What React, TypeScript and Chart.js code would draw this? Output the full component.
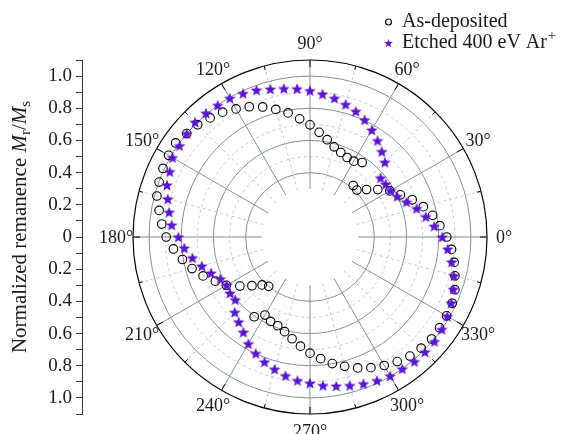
import React, { useEffect, useRef } from "react";
import { Chart, registerables } from "chart.js";

Chart.register(...registerables);

// ---------------- data ----------------
const ANGLES_DEG = [
  0, 5, 10, 15, 20, 25, 30, 35, 40, 45, 50, 55, 60, 65, 70, 75, 80, 85,
  90, 95, 100, 105, 110, 115, 120, 125, 130, 135, 140, 145, 150, 155, 160, 165, 170, 175,
  180, 185, 190, 195, 200, 205, 210, 215, 220, 225, 230, 235, 240, 245, 250, 255, 260, 265,
  270, 275, 280, 285, 290, 295, 300, 305, 310, 315, 320, 325, 330, 335, 340, 345, 350, 355,
];

const AS_DEPOSITED = [
  0.85, 0.81, 0.774, 0.729, 0.676, 0.62, 0.573, 0.514, 0.459, 0.412, 0.418, 0.565, 0.544, 0.545, 0.559, 0.58, 0.614, 0.653,
  0.697, 0.737, 0.783, 0.821, 0.86, 0.893, 0.919, 0.947, 0.966, 0.987, 1.0, 1.019, 1.015, 1.008, 0.998, 0.985, 0.952, 0.925,
  0.894, 0.852, 0.805, 0.759, 0.707, 0.649, 0.6, 0.532, 0.471, 0.421, 0.4, 0.605, 0.56, 0.579, 0.587, 0.609, 0.642, 0.681,
  0.722, 0.759, 0.799, 0.832, 0.866, 0.896, 0.922, 0.945, 0.966, 0.977, 0.986, 0.983, 0.98, 0.975, 0.958, 0.932, 0.91, 0.883,
];

const ETCHED_400EV = [
  0.822, 0.775, 0.731, 0.686, 0.638, 0.598, 0.578, 0.574, 0.572, 0.658, 0.694, 0.732, 0.768, 0.804, 0.832, 0.854, 0.876, 0.892,
  0.91, 0.925, 0.937, 0.952, 0.972, 0.985, 0.997, 1.0, 1.005, 1.01, 1.0, 0.99, 0.987, 0.962, 0.946, 0.915, 0.889, 0.863,
  0.818, 0.784, 0.742, 0.696, 0.654, 0.615, 0.597, 0.607, 0.606, 0.661, 0.689, 0.722, 0.766, 0.798, 0.826, 0.85, 0.875, 0.895,
  0.908, 0.926, 0.94, 0.955, 0.97, 0.984, 0.997, 1.0, 1.01, 1.01, 1.01, 1.0, 0.985, 0.969, 0.948, 0.926, 0.894, 0.859,
];

const SERIES_NAMES = ["As-deposited", "Etched 400 eV Ar"];
const ANGLE_TICK_VALUES = [0, 30, 60, 90, 120, 150, 180, 210, 240, 270, 300, 330];
const ANGLE_TICK_LABELS = ["0°", "30°", "60°", "90°", "120°", "150°", "180°", "210°", "240°", "270°", "300°", "330°"];
const RADIAL_GRID_VALUES = [0, 0.1, 0.2, 0.3, 0.4, 0.5, 0.6, 0.7, 0.8, 0.9, 1.0, 1.1];
const REMANENCE_TICKS = [
  -1.1, -1.0, -0.9, -0.8, -0.7, -0.6, -0.5, -0.4, -0.3, -0.2, -0.1, 0,
  0.1, 0.2, 0.3, 0.4, 0.5, 0.6, 0.7, 0.8, 0.9, 1.0, 1.1,
];
const HOLE_VALUE = 0.3;
const R_MAX = 1.1;

// ---------------- styles ----------------
const FONT = '"Liberation Serif", "Times New Roman", serif';
const TEXT = "#1a1a1a";
const STAR_COLOR = "#5a12d8";
const GRID_SOLID = "#7f9297";
const GRID_DASHED = "#bccdcd";

// radar goes clockwise from the start angle; order indices so that 0° is at the right
const N = ANGLES_DEG.length;
const RADAR_INDEX = ANGLES_DEG.map((_, i) => (N - i) % N);
const RADAR_LABELS = RADAR_INDEX.map((k) => ANGLES_DEG[k]);

function starPath(ctx: CanvasRenderingContext2D, cx: number, cy: number, R: number, r: number) {
  ctx.beginPath();
  for (let k = 0; k < 10; k++) {
    const rad = k % 2 === 0 ? R : r;
    const a = -Math.PI / 2 + (k * Math.PI) / 5;
    const x = cx + rad * Math.cos(a);
    const y = cy + rad * Math.sin(a);
    if (k === 0) ctx.moveTo(x, y);
    else ctx.lineTo(x, y);
  }
  ctx.closePath();
}

function makeStarImage(): HTMLCanvasElement {
  const c = document.createElement("canvas");
  c.width = 14;
  c.height = 14;
  const g = c.getContext("2d")!;
  g.fillStyle = STAR_COLOR;
  starPath(g, 7, 7.6, 6.2, 2.6);
  g.fill();
  return c;
}

const decorPlugin = {
  id: "polarDecor",
  beforeDatasetsDraw(chart: any) {
    const r = chart.scales.r;
    const ctx: CanvasRenderingContext2D = chart.ctx;
    const cx = r.xCenter;
    const cy = r.yCenter;
    const R = r.getDistanceFromCenterForValue(R_MAX);
    ctx.save();
    // blank inner hole
    ctx.fillStyle = "#ffffff";
    ctx.beginPath();
    ctx.arc(cx, cy, r.getDistanceFromCenterForValue(HOLE_VALUE), 0, Math.PI * 2);
    ctx.fill();
    // tick marks on the outer frame
    ctx.strokeStyle = "#000";
    ctx.lineWidth = 1;
    ctx.setLineDash([]);
    RADAR_LABELS.forEach((deg, i) => {
      if (deg % 15 !== 0) return;
      const len = deg % 30 === 0 ? 7 : 4;
      const p1 = r.getPointPosition(i, R);
      const p2 = r.getPointPosition(i, R - len);
      ctx.beginPath();
      ctx.moveTo(p1.x, p1.y);
      ctx.lineTo(p2.x, p2.y);
      ctx.stroke();
    });
    // angle labels
    ctx.fillStyle = TEXT;
    ctx.font = `18px ${FONT}`;
    ctx.textAlign = "center";
    ctx.textBaseline = "middle";
    ANGLE_TICK_VALUES.forEach((deg, j) => {
      const i = RADAR_LABELS.indexOf(deg);
      const p = r.getPointPosition(i, R + 17);
      ctx.fillText(ANGLE_TICK_LABELS[j], p.x, p.y + 1);
    });
    // y-axis title with italic symbols and subscripts
    ctx.textAlign = "left";
    ctx.textBaseline = "alphabetic";
    ctx.save();
    ctx.translate(20, 227);
    ctx.rotate(-Math.PI / 2);
    const parts = [
      { t: "Normalized remanence ", f: `21px ${FONT}`, dy: 0 },
      { t: "M", f: `italic 21px ${FONT}`, dy: 0 },
      { t: "r", f: `15px ${FONT}`, dy: 4 },
      { t: "/", f: `21px ${FONT}`, dy: 0 },
      { t: "M", f: `italic 21px ${FONT}`, dy: 0 },
      { t: "s", f: `15px ${FONT}`, dy: 4 },
    ];
    let total = 0;
    parts.forEach((p) => {
      ctx.font = p.f;
      total += ctx.measureText(p.t).width;
    });
    let x = -total / 2;
    parts.forEach((p) => {
      ctx.font = p.f;
      ctx.fillText(p.t, x, 6 + p.dy);
      x += ctx.measureText(p.t).width;
    });
    ctx.restore();
    // legend
    ctx.strokeStyle = "#000";
    ctx.lineWidth = 1.1;
    ctx.beginPath();
    ctx.arc(388.5, 22, 3, 0, Math.PI * 2);
    ctx.stroke();
    ctx.fillStyle = STAR_COLOR;
    starPath(ctx, 388.5, 43.5, 4.6, 1.9);
    ctx.fill();
    ctx.fillStyle = TEXT;
    ctx.font = `20px ${FONT}`;
    ctx.fillText(SERIES_NAMES[0], 402, 27);
    ctx.fillText(SERIES_NAMES[1], 402, 48);
    const w = ctx.measureText(SERIES_NAMES[1]).width;
    ctx.font = `14px ${FONT}`;
    ctx.fillText("+", 402 + w + 1, 40);
    ctx.restore();
  },
};

export default function App() {
  const ref = useRef<HTMLCanvasElement>(null);
  useEffect(() => {
    document.body.style.margin = "0";
    const starImg = makeStarImage();
    const gridStyle = (v: number) => {
      const k = Math.round(v * 10);
      if (k === 11) return { c: "#000", w: 1.2, d: [] as number[] };
      if (k === 4 || k === 6 || k === 8 || k === 10) return { c: GRID_SOLID, w: 1, d: [] as number[] };
      if (k === 5 || k === 7 || k === 9) return { c: GRID_DASHED, w: 1, d: [3, 3] };
      return { c: "rgba(0,0,0,0)", w: 0, d: [] as number[] };
    };
    const spokeStyle = (i: number) => {
      const deg = RADAR_LABELS[i];
      if (deg % 30 === 0) return { c: GRID_SOLID, w: 1, d: [] as number[] };
      if (deg % 15 === 0) return { c: GRID_DASHED, w: 1, d: [3, 3] };
      return { c: "rgba(0,0,0,0)", w: 0, d: [] as number[] };
    };
    const chart = new Chart(ref.current!, {
      type: "radar",
      data: {
        labels: RADAR_LABELS,
        datasets: [
          {
            label: SERIES_NAMES[0],
            data: RADAR_INDEX.map((k) => AS_DEPOSITED[k]),
            showLine: false,
            fill: false,
            order: 1,
            pointStyle: "circle",
            pointRadius: 4.3,
            pointBorderWidth: 1.1,
            pointBorderColor: "#000",
            pointBackgroundColor: "rgba(0,0,0,0)",
          } as any,
          {
            label: SERIES_NAMES[1],
            data: RADAR_INDEX.map((k) => ETCHED_400EV[k]),
            showLine: false,
            fill: false,
            order: 0,
            pointStyle: starImg,
            pointRadius: 6,
            pointBorderWidth: 0,
            pointBackgroundColor: STAR_COLOR,
          } as any,
        ],
      },
      options: {
        responsive: false,
        animation: false,
        devicePixelRatio: 1,
        layout: { padding: { left: 0, right: 44, top: 60, bottom: 20 } },
        plugins: { legend: { display: false }, tooltip: { enabled: false } },
        scales: {
          r: {
            min: 0,
            max: R_MAX,
            startAngle: 90,
            afterBuildTicks: (s: any) => {
              s.ticks = RADIAL_GRID_VALUES.map((v) => ({ value: v }));
            },
            ticks: { display: false },
            pointLabels: { display: false },
            grid: {
              circular: true,
              color: (c: any) => gridStyle(c.tick.value).c,
              lineWidth: (c: any) => gridStyle(c.tick.value).w,
            },
            border: { dash: (c: any) => gridStyle(c.tick.value).d } as any,
            angleLines: {
              display: true,
              color: (c: any) => spokeStyle(c.index).c,
              lineWidth: (c: any) => spokeStyle(c.index).w,
              borderDash: (c: any) => spokeStyle(c.index).d,
            } as any,
          },
          y: {
            type: "linear",
            position: "left",
            min: -R_MAX,
            max: R_MAX,
            afterBuildTicks: (s: any) => {
              s.ticks = REMANENCE_TICKS.map((v) => ({ value: v }));
            },
            afterFit: (s: any) => {
              s.width = 82;
            },
            grid: { drawOnChartArea: false, drawTicks: true, tickLength: 6, color: "#333", lineWidth: 1 },
            border: { display: true, color: "#333", width: 1 },
            ticks: {
              autoSkip: false,
              padding: 4,
              color: TEXT,
              font: { family: FONT, size: 19 },
              callback: (v: any) => {
                const k = Math.round(Number(v) * 10);
                if (k % 2 !== 0) return "";
                if (k === 0) return "0";
                return (Math.abs(k) / 10).toFixed(1);
              },
            },
          } as any,
        },
      } as any,
      plugins: [decorPlugin as any],
    });
    return () => chart.destroy();
  }, []);
  return (
    <div style={{ width: 582, height: 434 }}>
      <canvas ref={ref} width={582} height={434} style={{ display: "block" }} />
    </div>
  );
}
